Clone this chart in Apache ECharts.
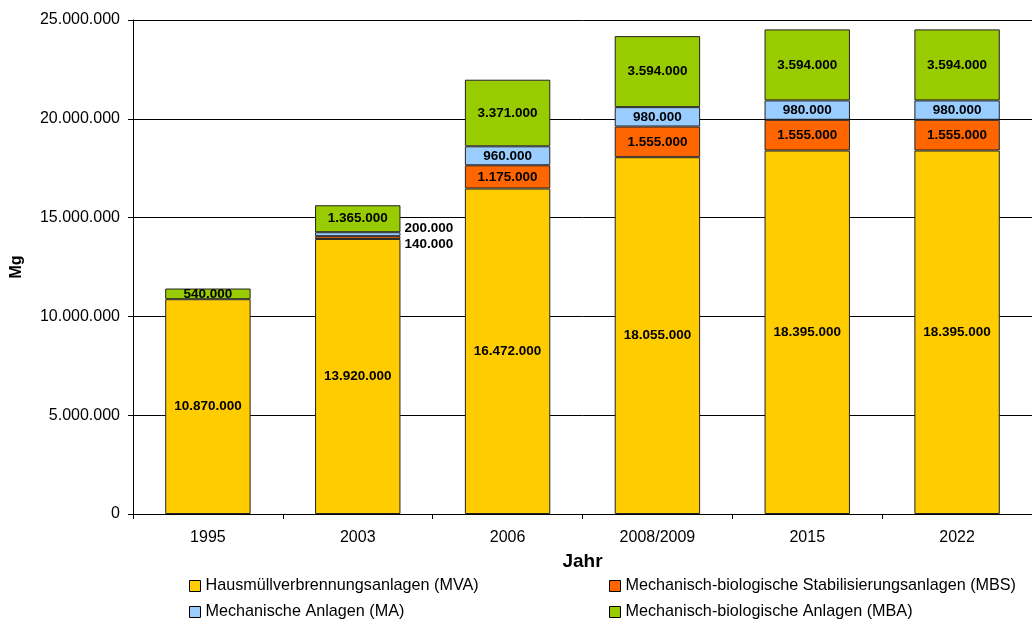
<!DOCTYPE html>
<html>
<head>
<meta charset="utf-8">
<script src="https://cdn.jsdelivr.net/npm/echarts@6/dist/echarts.min.js"></script>
<style>html,body{margin:0;padding:0;background:#fff}#c{width:1032px;height:622px}</style>
</head>
<body>
<div id="c"></div>
<script>
const categories = ['1995', '2003', '2006', '2008/2009', '2015', '2022'];
const mva = [10870000, 13920000, 16472000, 18055000, 18395000, 18395000];
const mbs = [0, 140000, 1175000, 1555000, 1555000, 1555000];
const ma  = [0, 200000, 960000, 980000, 980000, 980000];
const mba = [540000, 1365000, 3371000, 3594000, 3594000, 3594000];
const seriesNames = [
  'Hausmüllverbrennungsanlagen (MVA)',
  'Mechanisch-biologische Stabilisierungsanlagen (MBS)',
  'Mechanische Anlagen (MA)',
  'Mechanisch-biologische Anlagen (MBA)'
];
const colors = ['#FFCC00', '#FF6600', '#99CCFF', '#99CC00'];

function de(v) {
  return String(Math.round(v)).replace(/\B(?=(\d{3})+(?!\d))/g, '.');
}
const FONT = '"Liberation Sans", Arial, sans-serif';

function mkData(arr, sIdx) {
  return arr.map((v, i) => {
    if (!v) return { value: null };
    const d = { value: v };
    if (categories[i] === '2003' && (sIdx === 1 || sIdx === 2)) {
      d.label = { position: 'right', distance: 4, offset: [0, sIdx === 2 ? -6 : 7] };
    }
    return d;
  });
}

const chart = echarts.init(document.getElementById('c'), null, { renderer: 'canvas' });
const seriesArr = [mva, mbs, ma, mba].map((arr, k) => ({
  name: seriesNames[k],
  type: 'bar',
  stack: 'total',
  barWidth: '57%',
  data: mkData(arr, k),
  itemStyle: { color: colors[k], borderColor: '#222', borderWidth: 1 },
  label: {
    show: true,
    position: 'inside',
    fontFamily: FONT,
    fontWeight: 'bold',
    fontSize: 13.5,
    color: '#000',
    formatter: p => (p.value ? de(p.value) : '')
  },
  emphasis: { disabled: true }
}));

const legendCommon = {
  orient: 'vertical', top: 577, padding: 0,
  itemWidth: 11, itemHeight: 11, itemGap: 8,
  icon: 'rect',
  itemStyle: { borderColor: '#000', borderWidth: 1 },
  textStyle: { fontFamily: FONT, fontSize: 16.2, lineHeight: 18, color: '#000' }
};

chart.setOption({
  animation: false,
  textStyle: { fontFamily: FONT },
  color: colors,
  grid: { left: 133, top: 20, right: 0, bottom: 108, containLabel: false },
  legend: [
    Object.assign({ data: [seriesNames[0], seriesNames[2]], left: 189 }, legendCommon),
    Object.assign({ data: [seriesNames[1], seriesNames[3]], left: 609 }, legendCommon)
  ],
  xAxis: {
    type: 'category',
    data: categories,
    name: 'Jahr',
    nameLocation: 'middle',
    nameGap: 38,
    nameTextStyle: { fontFamily: FONT, fontWeight: 'bold', fontSize: 19, color: '#000' },
    axisLine: { lineStyle: { color: '#000', width: 1 } },
    axisTick: { show: true, length: 5, lineStyle: { color: '#000' } },
    axisLabel: { fontFamily: FONT, fontSize: 16, color: '#000', margin: 16 }
  },
  yAxis: {
    type: 'value',
    min: 0, max: 25000000, interval: 5000000,
    name: 'Mg',
    nameLocation: 'middle',
    nameGap: 108,
    nameTextStyle: { fontFamily: FONT, fontWeight: 'bold', fontSize: 16, color: '#000' },
    axisLine: { show: true, lineStyle: { color: '#000', width: 1 } },
    axisTick: { show: true, length: 5, lineStyle: { color: '#000' } },
    axisLabel: { fontFamily: FONT, fontSize: 16, color: '#000', margin: 13, formatter: v => de(v) },
    splitLine: { show: true, lineStyle: { color: '#000', width: 1 } }
  },
  series: seriesArr
});
</script>
</body>
</html>
